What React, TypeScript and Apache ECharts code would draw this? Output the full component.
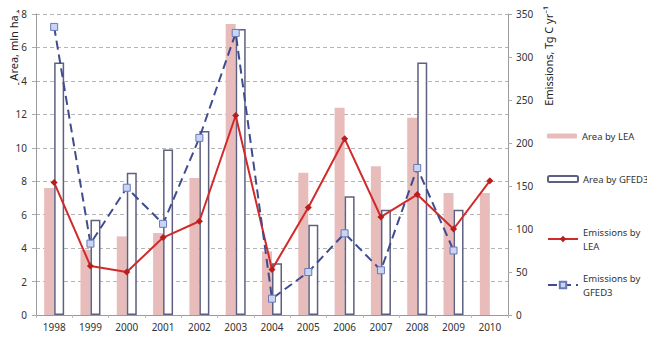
import React, { useEffect, useRef } from "react";
import * as echarts from "echarts";

// Burned area (mln ha) and carbon emissions (Tg C / yr) by year
const years = ["1998", "1999", "2000", "2001", "2002", "2003", "2004", "2005", "2006", "2007", "2008", "2009", "2010"];
const areaLEA = [7.6, 3.9, 4.7, 4.9, 8.2, 17.4, 3.8, 8.5, 12.4, 8.9, 11.8, 7.3, 7.3];
const areaGFED3 = [15.1, 5.7, 8.5, 9.9, 11.0, 17.1, 3.1, 5.4, 7.1, 6.3, 15.1, 6.3, null];
const emissionsLEA = [154, 57, 50, 90, 109, 232, 53, 125, 205, 114, 140, 100, 156];
const emissionsGFED3 = [335, 83, 148, 106, 206, 328, 19, 50, 95, 52, 171, 75, null];

const FONT = "'Noto Sans', 'Liberation Sans', sans-serif";
const PINK = "#e8bcbb";
const OUTLINE = "#5d6080";
const RED = "#d22a2a";
const BLUE = "#3f4c8e";

export default function App() {
  const ref = useRef<HTMLDivElement>(null);

  useEffect(() => {
    if (!ref.current) return;
    const chart = echarts.init(ref.current, undefined, { renderer: "svg" });

    const legendText = { fontFamily: FONT, fontSize: 9.5, color: "#333" };
    const legendBase = {
      left: 542,
      itemWidth: 30,
      itemGap: 0,
      orient: "vertical" as const,
      selectedMode: false,
      textStyle: legendText,
    };

    chart.setOption({
      animation: false,
      textStyle: { fontFamily: FONT },
      grid: { left: 36, right: 139, top: 14, bottom: 23 },
      legend: [
        { ...legendBase, top: 126, itemHeight: 5, data: ["Area by LEA"] },
        { ...legendBase, top: 169, itemHeight: 6, data: ["Area by GFED3"] },
        {
          ...legendBase,
          top: 213,
          itemHeight: 8,
          data: ["Emissions by LEA"],
          formatter: () => "Emissions by\nLEA",
          textStyle: { ...legendText, lineHeight: 14, padding: [14, 0, 0, 0] },
        },
        {
          ...legendBase,
          top: 259,
          itemHeight: 8,
          data: ["Emissions by GFED3"],
          formatter: () => "Emissions by\nGFED3",
          textStyle: { ...legendText, lineHeight: 14, padding: [14, 0, 0, 0] },
        },
      ],
      xAxis: {
        type: "category",
        data: years,
        axisLine: { lineStyle: { color: "#9a9a9a" } },
        axisTick: { show: true, length: 3, lineStyle: { color: "#bbb" } },
        axisLabel: { color: "#333", fontSize: 10, margin: 7 },
      },
      yAxis: [
        {
          type: "value",
          min: 0,
          max: 18,
          interval: 2,
          axisLine: { show: true, lineStyle: { color: "#9a9a9a" } },
          axisTick: { show: true, length: 4, lineStyle: { color: "#aaa" } },
          axisLabel: { color: "#333", fontSize: 10, margin: 9 },
          splitLine: { lineStyle: { color: "#b4b4b4", type: [4, 3] } },
        },
        {
          type: "value",
          min: 0,
          max: 350,
          interval: 50,
          axisLine: { show: true, lineStyle: { color: "#9a9a9a" } },
          axisTick: { show: true, length: 4, lineStyle: { color: "#aaa" } },
          axisLabel: { color: "#333", fontSize: 10, margin: 8 },
          splitLine: { show: false },
        },
      ],
      graphic: [
        {
          type: "text",
          x: 13,
          y: 48,
          rotation: Math.PI / 2,
          z: 100,
          style: {
            text: "Area, mln ha",
            fill: "#222",
            fontFamily: FONT,
            fontSize: 11,
            align: "center",
            verticalAlign: "middle",
            backgroundColor: "#fff",
            padding: [1, 2, 1, 2],
          },
        },
        {
          type: "text",
          x: 548,
          y: 56,
          rotation: Math.PI / 2,
          z: 100,
          style: {
            text: "Emissions, Tg C yr⁻¹",
            fill: "#222",
            fontFamily: FONT,
            fontSize: 11,
            align: "center",
            verticalAlign: "middle",
          },
        },
      ],
      series: [
        {
          name: "Area by LEA",
          type: "bar",
          yAxisIndex: 0,
          data: areaLEA,
          barWidth: 10,
          barGap: "0%",
          itemStyle: { color: PINK },
        },
        {
          name: "Area by GFED3",
          type: "bar",
          yAxisIndex: 0,
          data: areaGFED3,
          barWidth: 10,
          barGap: "0%",
          itemStyle: { color: "#fff", borderColor: OUTLINE, borderWidth: 1.5 },
        },
        {
          name: "Emissions by LEA",
          type: "line",
          yAxisIndex: 1,
          data: emissionsLEA,
          symbol: "diamond",
          symbolSize: 7,
          itemStyle: { color: "#b91d1d" },
          lineStyle: { color: RED, width: 2 },
          z: 3,
        },
        {
          name: "Emissions by GFED3",
          type: "line",
          yAxisIndex: 1,
          data: emissionsGFED3,
          symbol: "rect",
          symbolSize: 7,
          itemStyle: { color: "#c9d6f3", borderColor: "#6a78b8", borderWidth: 1 },
          lineStyle: { color: BLUE, width: 2, type: [9, 5] },
          z: 4,
        },
      ],
    });

    return () => chart.dispose();
  }, []);

  return (
    <div
      ref={ref}
      style={{ position: "fixed", left: 0, top: 0, width: 647, height: 338, background: "#fff" }}
    />
  );
}
